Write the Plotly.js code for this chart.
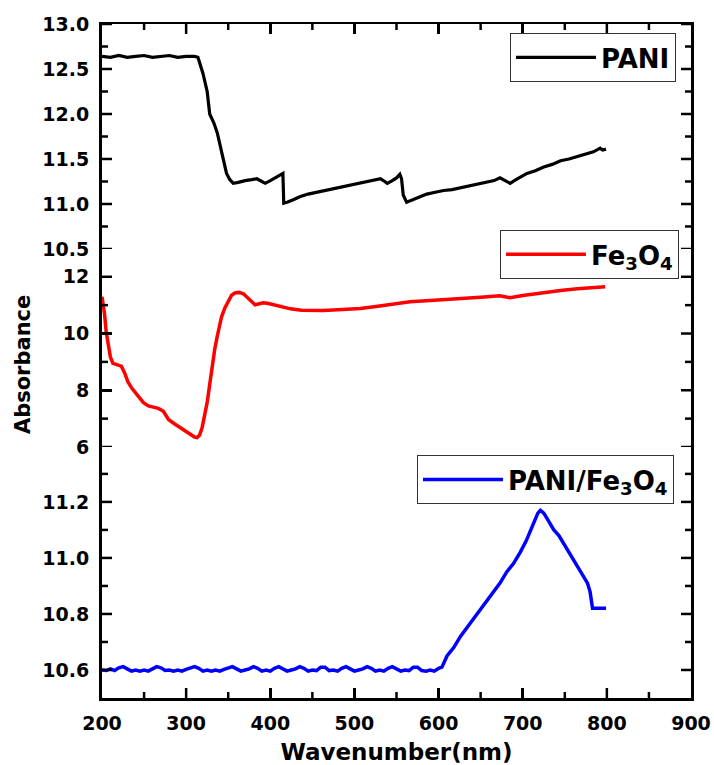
<!DOCTYPE html>
<html>
<head>
<meta charset="utf-8">
<script src="https://cdn.plot.ly/plotly-3.0.1.min.js"></script>
<style>html,body{margin:0;padding:0;background:#fff;}</style>
</head>
<body>
<div id="chart" style="width:714px;height:765px;"></div>
<script>
// ---- Data ----
const seriesNames = ["PANI", "Fe<sub>3</sub>O<sub>4</sub>", "PANI/Fe<sub>3</sub>O<sub>4</sub>"];

const paniX = [200,210,220,230,240,250,260,270,280,290,300,310,314,320,325,328,333,337,341,344,348,352,356,362,370,378,384,390,394,400,408,415,416,420,428,435,445,455,465,475,485,495,507,515,525,531,536,539,545,550,554,556,558,562,570,578,586,596,606,616,626,636,646,656,666,673,680,685,692,700,705,715,725,735,745,755,765,775,784,790,792,795,799];
const paniY = [12.64,12.63,12.65,12.63,12.64,12.65,12.63,12.64,12.65,12.63,12.64,12.64,12.63,12.45,12.25,12.00,11.90,11.79,11.62,11.49,11.34,11.27,11.23,11.24,11.26,11.27,11.28,11.25,11.23,11.26,11.30,11.34,11.01,11.02,11.05,11.08,11.11,11.13,11.15,11.17,11.19,11.21,11.24,11.25,11.27,11.28,11.25,11.23,11.26,11.29,11.33,11.28,11.10,11.02,11.05,11.08,11.11,11.13,11.15,11.16,11.18,11.20,11.22,11.24,11.26,11.29,11.25,11.23,11.27,11.31,11.34,11.37,11.41,11.44,11.48,11.50,11.53,11.56,11.58,11.61,11.62,11.60,11.61];

const feX = [200,203,205,208,210,213,217,223,227,231,236,241,249,255,261,267,273,276,279,286,293,299,305,310,313,316,319,322,325,328,331,334,337,340,342,346,350,354,358,363,368,371,374,378,382,387,392,398,404,414,424,437,450,462,475,490,507,530,550,566,590,610,626,650,673,680,685,700,724,745,765,785,798];
const feY = [11.30,10.70,10.05,9.50,9.17,8.95,8.90,8.85,8.60,8.28,8.05,7.86,7.57,7.45,7.40,7.36,7.26,7.10,6.97,6.82,6.69,6.56,6.44,6.35,6.33,6.42,6.69,7.10,7.57,8.20,8.85,9.45,9.91,10.35,10.58,10.90,11.15,11.35,11.43,11.45,11.40,11.32,11.22,11.10,11.01,11.05,11.08,11.06,11.01,10.93,10.87,10.82,10.80,10.81,10.83,10.86,10.88,10.97,11.05,11.12,11.16,11.19,11.22,11.28,11.33,11.28,11.26,11.34,11.45,11.52,11.58,11.62,11.65];

const compX = [200,205,210,215,220,225,230,235,240,245,250,255,260,265,270,275,280,285,290,295,300,305,310,315,320,325,330,335,340,345,350,355,360,365,370,375,380,385,390,395,400,405,410,415,420,425,430,435,440,445,450,455,460,465,470,475,480,485,490,495,500,505,510,515,520,525,530,535,540,545,550,555,560,565,570,575,580,585,590,595,600,604,610,618,626,636,646,655,665,673,681,689,697,704,711,715,718,721,725,729,733,737,743,749,755,761,769,777,780,783,790,799];
const compY = [10.600,10.598,10.604,10.598,10.608,10.612,10.604,10.596,10.600,10.596,10.600,10.596,10.604,10.612,10.608,10.598,10.600,10.596,10.600,10.596,10.602,10.606,10.612,10.606,10.596,10.600,10.596,10.600,10.596,10.602,10.608,10.612,10.604,10.596,10.600,10.604,10.612,10.606,10.596,10.600,10.596,10.606,10.612,10.604,10.596,10.600,10.604,10.612,10.606,10.596,10.600,10.598,10.610,10.610,10.598,10.600,10.596,10.606,10.612,10.604,10.596,10.600,10.604,10.612,10.606,10.596,10.600,10.596,10.606,10.612,10.604,10.596,10.600,10.598,10.610,10.610,10.598,10.596,10.600,10.596,10.606,10.610,10.65,10.68,10.72,10.76,10.80,10.84,10.88,10.91,10.95,10.98,11.02,11.06,11.11,11.14,11.16,11.17,11.16,11.14,11.12,11.10,11.08,11.05,11.02,10.99,10.95,10.91,10.88,10.82,10.82,10.82];

// axis ranges and tick values
const xRange = [200, 900];
const xMajor = [200,300,400,500,600,700,800,900];
const xMinor = [250,350,450,550,650,750,850];
const topRange = [10.5, 13.0001], topMajor = [10.5,11.0,11.5,12.0,12.5,13.0], topMinor = [10.75,11.25,11.75,12.25,12.75];
const midRange = [6, 12.98], midMajor = [6,8,10,12], midMinor = [7,9,11];
const botRange = [10.5, 11.396], botMajor = [10.6,10.8,11.0,11.2], botMinor = [10.7,10.9,11.1,11.3];

// ---- Styling ----
const FONT = "DejaVu Sans";
const tickFont = {family: FONT, size: 19, color: "#000", weight: "bold"};
const legendFont = {family: FONT, size: 26, color: "#000", weight: "bold"};
const MAJ = 10, MIN = 6, TW = 2.5;

function yAxis(domain, range, major, minor, fmt) {
  return {
    domain: domain, range: range, tickmode: "array", tickvals: major, tickformat: fmt,
    ticks: "inside", ticklen: MAJ, tickwidth: TW, tickcolor: "#000",
    showline: true, linewidth: 3, linecolor: "#000", mirror: true,
    showgrid: false, zeroline: false, tickfont: tickFont, ticklabelstandoff: 6
  };
}

const data = [
  {x: compX, y: compY, xaxis: "x", yaxis: "y", type: "scatter", mode: "lines",
   name: seriesNames[2], line: {color: "#0000ff", width: 3.5}, legend: "legend3"},
  {x: feX, y: feY, xaxis: "x2", yaxis: "y2", type: "scatter", mode: "lines",
   name: seriesNames[1], line: {color: "#ff0000", width: 3.5}, legend: "legend2"},
  {x: paniX, y: paniY, xaxis: "x3", yaxis: "y3", type: "scatter", mode: "lines",
   name: seriesNames[0], line: {color: "#000000", width: 3.2}, legend: "legend"}
];

const xBase = {
  range: xRange, tickmode: "array", tickvals: xMajor,
  ticks: "inside", ticklen: MAJ, tickwidth: TW, tickcolor: "#000",
  showline: true, linewidth: 3, linecolor: "#000", showgrid: false, zeroline: false,
  tickfont: tickFont
};

const legendBase = {
  font: legendFont, bgcolor: "#ffffff", bordercolor: "#333", borderwidth: 1,
  xanchor: "right", yanchor: "top", itemwidth: 80, itemclick: false, itemdoubleclick: false,
  tracegroupgap: 0
};

// Tick marks (drawn from the tick-value arrays, sized in pixels) so they always show above the plot
const shapes = [];
const tickLine = {color: "#000", width: TW};
function xTicks(vals, len) {
  vals.forEach(function (v) {
    shapes.push({type: "line", layer: "above", xref: "x", yref: "paper", ysizemode: "pixel", yanchor: 0,
      x0: v, x1: v, y0: 0, y1: len, line: tickLine});
    shapes.push({type: "line", layer: "above", xref: "x", yref: "paper", ysizemode: "pixel", yanchor: 1,
      x0: v, x1: v, y0: 0, y1: -len, line: tickLine});
  });
}
function yTicks(yref, vals, len) {
  vals.forEach(function (v) {
    shapes.push({type: "line", layer: "above", xref: "paper", yref: yref, xsizemode: "pixel", xanchor: 0,
      x0: 0, x1: len, y0: v, y1: v, line: tickLine});
    shapes.push({type: "line", layer: "above", xref: "paper", yref: yref, xsizemode: "pixel", xanchor: 1,
      x0: 0, x1: -len, y0: v, y1: v, line: tickLine});
  });
}
xTicks(xMajor.slice(1, -1), MAJ); xTicks(xMinor, MIN);
yTicks("y3", topMajor, MAJ); yTicks("y3", topMinor, MIN);
yTicks("y2", midMajor, MAJ); yTicks("y2", midMinor, MIN);
yTicks("y", botMajor, MAJ); yTicks("y", botMinor, MIN);

const layout = {
  width: 714, height: 765,
  margin: {l: 102, r: 23, t: 24, b: 67, pad: 0},
  paper_bgcolor: "#fff", plot_bgcolor: "#fff",
  showlegend: true,
  xaxis: Object.assign({}, xBase, {anchor: "y", ticklabelstandoff: 6,
    title: {text: "Wavenumber(nm)", font: {family: FONT, size: 23, color: "#000", weight: "bold"}, standoff: 14}}),
  xaxis2: Object.assign({}, xBase, {anchor: "y2", showline: false, ticks: "", showticklabels: false}),
  xaxis3: Object.assign({}, xBase, {anchor: "y3", side: "top", showticklabels: false, linewidth: 2.5}),
  yaxis: Object.assign(yAxis([0, 0.3724], botRange, botMajor, botMinor, ".1f"), {anchor: "x"}),
  yaxis2: Object.assign(yAxis([0.3724, 0.6662], midRange, midMajor, midMinor, "d"), {anchor: "x2"}),
  yaxis3: Object.assign(yAxis([0.6662, 1], topRange, topMajor, topMinor, ".1f"), {anchor: "x3"}),
  legend: Object.assign({}, legendBase, {x: 0.9745, y: 0.9866}),
  legend2: Object.assign({}, legendBase, {x: 0.9796, y: 0.6944}),
  legend3: Object.assign({}, legendBase, {x: 0.9711, y: 0.3605}),
  shapes: shapes,
  annotations: [{
    text: "Absorbance", xref: "paper", yref: "paper", x: -0.134, y: 0.494,
    xanchor: "center", yanchor: "middle", textangle: -90, showarrow: false,
    font: {family: FONT, size: 21, color: "#000", weight: "bold"}
  }]
};

Plotly.newPlot("chart", data, layout, {displayModeBar: false, staticPlot: true});
</script>
</body>
</html>
